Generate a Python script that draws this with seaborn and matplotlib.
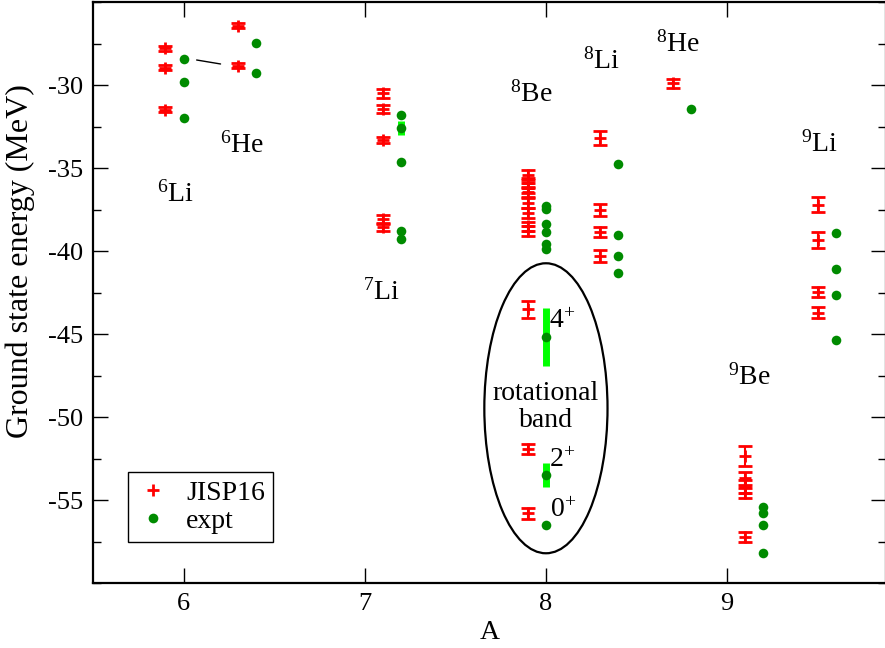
import matplotlib
matplotlib.use("Agg")
import matplotlib.pyplot as plt
from matplotlib.lines import Line2D
from matplotlib.patches import Ellipse
from matplotlib.ticker import MultipleLocator
import seaborn as sns
import pandas as pd

# ---------------- data ----------------
# JISP16 calculations (x position = A - 0.1), energy and extrapolation uncertainty
jisp_A = [5.9, 5.9, 5.9,
          6.3, 6.3,
          7.1, 7.1, 7.1, 7.1, 7.1,
          7.9, 7.9, 7.9, 7.9, 7.9, 7.9, 7.9, 7.9, 7.9, 7.9, 7.9,
          8.3, 8.3, 8.3, 8.3,
          8.7,
          9.1, 9.1, 9.1, 9.1, 9.1,
          9.5, 9.5, 9.5, 9.5]
jisp_E = [-27.77, -28.93, -31.48,
          -26.40, -28.81,
          -30.48, -31.44, -33.29, -38.07, -38.51,
          -35.4, -35.9, -36.2, -36.4, -37.1, -37.7, -38.5, -38.8, -43.5, -51.9, -55.78,
          -33.19, -37.5, -38.81, -40.28,
          -29.87,
          -52.31, -53.67, -54.17, -54.55, -57.22,
          -37.2, -39.31, -42.43, -43.69]
jisp_err = [0.15, 0.15, 0.15,
            0.15, 0.15,
            0.25, 0.25, 0.2, 0.25, 0.25,
            0.3, 0.3, 0.3, 0.3, 0.3, 0.3, 0.3, 0.3, 0.5, 0.3, 0.35,
            0.43, 0.36, 0.3, 0.35,
            0.28,
            0.6, 0.4, 0.4, 0.3, 0.3,
            0.45, 0.5, 0.3, 0.33]

# experimental levels (x position = A + offset)
expt_A = [6.0, 6.0, 6.0,
          6.4, 6.4,
          7.2, 7.2, 7.2, 7.2, 7.2,
          8.0, 8.0, 8.0, 8.0, 8.0, 8.0, 8.0, 8.0, 8.0,
          8.4, 8.4, 8.4, 8.4,
          8.8,
          9.2, 9.2, 9.2, 9.2,
          9.6, 9.6, 9.6, 9.6]
expt_E = [-28.43, -29.81, -31.99,
          -27.47, -29.27,
          -31.78, -32.56, -34.61, -38.77, -39.24,
          -37.26, -37.43, -38.35, -38.86, -39.58, -39.87, -45.15, -53.47, -56.50,
          -34.75, -39.02, -40.30, -41.28,
          -31.41,
          -55.39, -55.74, -56.49, -58.17,
          -38.90, -41.04, -42.65, -45.34]

# experimental widths (lime bars)
width_A = [7.2, 8.0, 8.0]
width_lo = [-33.00, -46.90, -54.22]
width_hi = [-32.12, -43.40, -52.72]

# connecting line 6Li -> 6He
link_A = [6.072, 6.204]
link_E = [-28.47, -28.71]

# nucleus labels: (mass number superscript, symbol, x, y baseline)
nuc_mass = ["6", "6", "7", "8", "8", "8", "9", "9"]
nuc_sym = ["Li", "He", "Li", "Be", "Li", "He", "Be", "Li"]
nuc_x = [5.853, 6.20, 6.99, 7.80, 8.206, 8.61, 9.007, 9.41]
nuc_y = [-37.03, -34.07, -42.93, -31.0, -28.97, -27.97, -48.05, -34.0]

# rotational band labels
band_labels = ["4", "2", "0"]
band_x = [8.015, 8.015, 8.025]
band_y = [-44.6, -52.97, -55.98]

# ---------------- style ----------------
sns.set_style("ticks")
plt.rcParams["font.family"] = ["Liberation Serif", "DejaVu Serif"]
plt.rcParams["mathtext.fontset"] = "custom"
plt.rcParams["mathtext.rm"] = "Liberation Serif"
plt.rcParams["mathtext.it"] = "Liberation Serif:italic"
plt.rcParams["axes.unicode_minus"] = False
plt.rcParams["text.color"] = "black"
plt.rcParams["axes.labelcolor"] = "black"
plt.rcParams["xtick.color"] = "black"
plt.rcParams["ytick.color"] = "black"

RED = "#ff0000"
GREEN = "#008b00"
LIME = "#00ff00"

fig = plt.figure(figsize=(8.85, 6.48), dpi=100)
ax = fig.add_axes([0.1051, 0.0997, 0.896, 0.8966])

# lime width bars
ax.vlines(width_A, width_lo, width_hi, colors=LIME, linewidth=5, zorder=1)

# JISP16 with uncertainties
ax.errorbar(jisp_A, jisp_E, yerr=jisp_err, fmt="+", color=RED, ecolor=RED,
            markersize=9, mew=2, elinewidth=1.5, capsize=5, capthick=1.5, zorder=2)

# experiment
df_expt = pd.DataFrame({"A": expt_A, "E": expt_E})
sns.scatterplot(data=df_expt, x="A", y="E", color=GREEN, s=48, linewidth=0,
                ax=ax, zorder=3, legend=False)

ax.plot(link_A, link_E, color="black", linewidth=1.0, zorder=2)

# ellipse around rotational band
ax.add_patch(Ellipse((8.0, -49.45), 0.68, 17.47, fill=False, edgecolor="black",
                     linewidth=1.6, zorder=4))

for m, s, x, y in zip(nuc_mass, nuc_sym, nuc_x, nuc_y):
    ax.text(x, y, r"$^{%s}$" % m + s, fontsize=20, ha="left", va="baseline", zorder=5)

for lab, x, y in zip(band_labels, band_x, band_y):
    ax.text(x, y, lab + r"$^{+}$", fontsize=20, ha="left", va="baseline", zorder=5)

ax.text(8.0, -48.95, "rotational", fontsize=20, ha="center", va="baseline", zorder=5)
ax.text(8.0, -50.56, "band", fontsize=20, ha="center", va="baseline", zorder=5)

# axes
ax.set_xlim(5.5, 9.877)
ax.set_ylim(-60, -25)
ax.set_xticks([6, 7, 8, 9])
ax.yaxis.set_major_locator(MultipleLocator(5))
ax.yaxis.set_minor_locator(MultipleLocator(2.5))
ax.set_yticks([-55, -50, -45, -40, -35, -30])
ax.tick_params(which="both", direction="in", top=True, right=True, labelsize=19,
               width=1.0, colors="black")
ax.tick_params(which="major", length=11, pad=7)
ax.tick_params(which="minor", length=5.5)
ax.tick_params(axis="x", which="minor", bottom=False, top=False)
for sp in ax.spines.values():
    sp.set_linewidth(1.6)
    sp.set_color("black")

ax.set_xlabel("A", fontsize=20)
ax.set_ylabel("Ground state energy (MeV)", fontsize=23)
ax.xaxis.set_label_coords(0.5, -0.063)
ax.yaxis.set_label_coords(-0.073, 0.555)

handles = [Line2D([], [], color=RED, marker="+", linestyle="none", markersize=9, mew=2),
           Line2D([], [], color=GREEN, marker="o", linestyle="none", markersize=7,
                  markeredgewidth=0)]
leg = ax.legend(handles, ["JISP16", "expt"], loc="lower left",
                bbox_to_anchor=(0.044, 0.071), borderaxespad=0, fontsize=20,
                frameon=True, fancybox=False, framealpha=1, edgecolor="black",
                handlelength=1.2, handletextpad=0.6, borderpad=0.3, labelspacing=0.1)
leg.get_frame().set_linewidth(1.0)

fig.savefig("out.png", dpi=100)
